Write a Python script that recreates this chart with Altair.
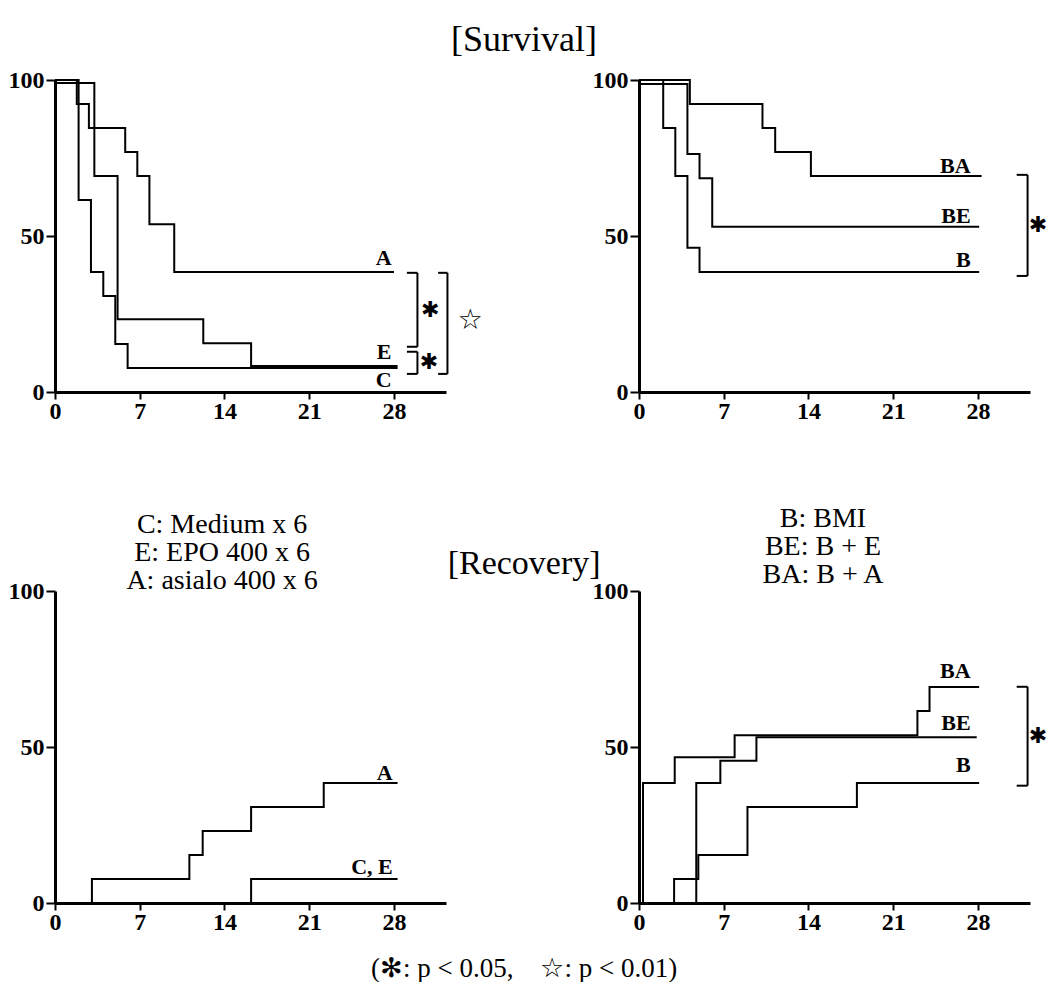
import altair as alt
import pandas as pd

# ---------------- data (days, %) ----------------
# [Survival] left panel
surv_A_t = [0, 1.8, 2.8, 5.8, 6.8, 7.8, 9.85, 28.0]
surv_A_v = [100, 92.3, 84.6, 76.9, 69.2, 53.8, 38.5, 38.5]
surv_E_t = [0, 3.25, 5.17, 12.25, 16.2, 28.3]
surv_E_v = [99, 69.2, 23.3, 15.6, 8.3, 8.3]
surv_C_t = [0, 1.95, 2.97, 3.99, 4.98, 6.0, 28.3]
surv_C_v = [100, 61.5, 38.5, 30.8, 15.4, 7.7, 7.7]
# [Survival] right panel
surv_BA_t = [0, 4.2, 10.2, 11.25, 14.2, 28.3]
surv_BA_v = [100, 92.3, 84.6, 76.9, 69.2, 69.2]
surv_BE_t = [0, 4.0, 5.0, 6.05, 28.1]
surv_BE_v = [98.7, 76.3, 68.5, 53.0, 53.0]
surv_B_t = [0, 2.0, 3.0, 4.0, 5.0, 28.1]
surv_B_v = [100, 84.6, 69.2, 46.2, 38.5, 38.5]
# [Recovery] left panel
rec_A_t = [0, 3.05, 11.1, 12.2, 16.2, 22.2, 28.3]
rec_A_v = [0, 7.7, 15.4, 23.1, 30.8, 38.5, 38.5]
rec_CE_t = [0, 16.2, 28.3]
rec_CE_v = [0, 7.7, 7.7]
# [Recovery] right panel
rec_BA_t = [0, 0.33, 2.95, 7.9, 23.0, 24.0, 28.1]
rec_BA_v = [0, 38.5, 46.7, 53.8, 61.5, 69.2, 69.2]
rec_BE_t = [0, 4.73, 6.72, 9.7, 27.9]
rec_BE_v = [0, 38.5, 45.6, 53.1, 53.1]
rec_B_t = [0, 2.9, 4.9, 8.96, 18.0, 28.1]
rec_B_v = [0, 7.7, 15.4, 30.8, 38.5, 38.5]

x_ticks = [0, 7, 14, 21, 28]
y_ticks = [0, 50, 100]

# curve labels: (text, x, y)
lab_TL = [("A", 27.8, 43.1), ("E", 27.8, 12.8), ("C", 27.8, 3.8)]
lab_TR = [("BA", 27.4, 72.4), ("BE", 27.4, 56.3), ("B", 27.4, 42.3)]
lab_BL = [("A", 27.9, 41.6), ("C, E", 27.9, 11.4)]
lab_BR = [("BA", 27.4, 74.3), ("BE", 27.4, 57.6), ("B", 27.4, 44.3)]

# significance brackets: (x_left, x_right, y_top, y_bottom)
br_TL = [(29.07, 29.94, 38.2, 14.5), (29.07, 29.94, 12.9, 5.8), (31.65, 32.42, 38.2, 5.8)]
br_TR = [(31.2, 32.1, 69.6, 37.2)]
br_BR = [(31.2, 32.1, 69.3, 37.6)]
sym_TL = [("✱", 31.0, 26.3, 22), ("✱", 30.9, 9.6, 22), ("☆", 34.3, 22.9, 28)]
sym_TR = [("✱", 32.95, 53.5, 22)]
sym_BR = [("✱", 32.95, 53.6, 22)]

NB = "\u00a0"
# free texts: (text, x, y, size, align)
txt_TL = [("[Survival]", 38.75, 112.8, 36, "center")]
txt_BL = [("[Recovery]", 38.75, 108.5, 34, "center"),
          ("C: Medium x 6", 13.8, 121.3, 28, "center"),
          ("E: EPO 400 x 6", 13.8, 112.3, 28, "center"),
          ("A: asialo 400 x 6", 13.8, 103.3, 28, "center"),
          ("(✻: p < 0.05," + NB * 4 + "☆: p < 0.01)", 38.75, -21.0, 27, "center")]
txt_BR = [("B: BMI", 15.2, 123.2, 28, "center"),
          ("BE: B + E", 15.2, 114.2, 28, "center"),
          ("BA: B + A", 15.2, 105.2, 28, "center")]

W, H = 391, 312
XDOM = [0, 32.3]
SERIF = "Liberation Serif"


def X(field):
    return alt.X(field, type="quantitative", title=None,
                 scale=alt.Scale(domain=XDOM, nice=False, zero=False),
                 axis=alt.Axis(values=x_ticks, tickSize=7, labelPadding=0,
                               labelFlush=False))


def Y(field):
    return alt.Y(field, type="quantitative", title=None,
                 scale=alt.Scale(domain=[0, 100], nice=False),
                 axis=alt.Axis(values=y_ticks, tickSize=9, labelPadding=2))


def panel(series, labels, brackets=(), symbols=(), texts=()):
    rows = []
    for name, ts, vs in series:
        for t, v in zip(ts, vs):
            rows.append({"t": t, "v": v, "s": name})
    df = pd.DataFrame(rows)
    layers = [alt.Chart(df).mark_line(interpolate="step-after", color="black",
                                      strokeWidth=2).encode(x=X("t"), y=Y("v"), detail="s:N")]
    ldf = pd.DataFrame(labels, columns=["label", "t", "v"])
    layers.append(alt.Chart(ldf).mark_text(font=SERIF, fontWeight="bold", fontSize=22,
                                           align="right", baseline="middle", color="black")
                  .encode(x=X("t"), y=Y("v"), text="label:N"))
    if brackets:
        hrows, vrows = [], []
        for xl, xr, yt, yb in brackets:
            hrows.append({"t": xl, "t2": xr, "v": yt})
            hrows.append({"t": xl, "t2": xr, "v": yb})
            vrows.append({"t": xr, "v": yt, "v2": yb})
        layers.append(alt.Chart(pd.DataFrame(hrows)).mark_rule(color="black", strokeWidth=2)
                      .encode(x=X("t"), x2="t2", y=Y("v")))
        layers.append(alt.Chart(pd.DataFrame(vrows)).mark_rule(color="black", strokeWidth=2)
                      .encode(x=X("t"), y=Y("v"), y2="v2"))
    if symbols:
        sdf = pd.DataFrame(symbols, columns=["label", "t", "v", "size"])
        layers.append(alt.Chart(sdf).mark_text(font="DejaVu Sans", align="center",
                                               baseline="middle", color="black")
                      .encode(x=X("t"), y=Y("v"), text="label:N",
                              size=alt.Size("size:Q", scale=None, legend=None)))
    for txt, tx, ty, sz, al in texts:
        tdf = pd.DataFrame([{"label": txt, "t": tx, "v": ty}])
        layers.append(alt.Chart(tdf).mark_text(font=SERIF, fontSize=sz, align=al,
                                               baseline="middle", color="black")
                      .encode(x=X("t"), y=Y("v"), text="label:N"))
    return alt.layer(*layers).properties(width=W, height=H)


TL = panel([("A", surv_A_t, surv_A_v), ("E", surv_E_t, surv_E_v), ("C", surv_C_t, surv_C_v)],
           lab_TL, br_TL, sym_TL, txt_TL)
TR = panel([("BA", surv_BA_t, surv_BA_v), ("BE", surv_BE_t, surv_BE_v), ("B", surv_B_t, surv_B_v)],
           lab_TR, br_TR, sym_TR)
BL = panel([("A", rec_A_t, rec_A_v), ("CE", rec_CE_t, rec_CE_v)], lab_BL, (), (), txt_BL)
BR = panel([("BA", rec_BA_t, rec_BA_v), ("BE", rec_BE_t, rec_BE_v), ("B", rec_B_t, rec_B_v)],
           lab_BR, br_BR, sym_BR, txt_BR)

chart = alt.concat(TL, TR, BL, BR, columns=2, spacing={"row": 199, "column": 193},
                   bounds="flush").properties(
    padding={"left": 0, "top": 14, "right": 0, "bottom": 0}
).configure_view(stroke=None).configure_axis(
    domainWidth=3, domainColor="black", tickColor="black", tickWidth=2,
    labelColor="black", labelFont=SERIF, labelFontSize=24, labelFontWeight="bold",
    grid=False
)

chart.save("out.html", embed_options={"renderer": "svg", "actions": False})
